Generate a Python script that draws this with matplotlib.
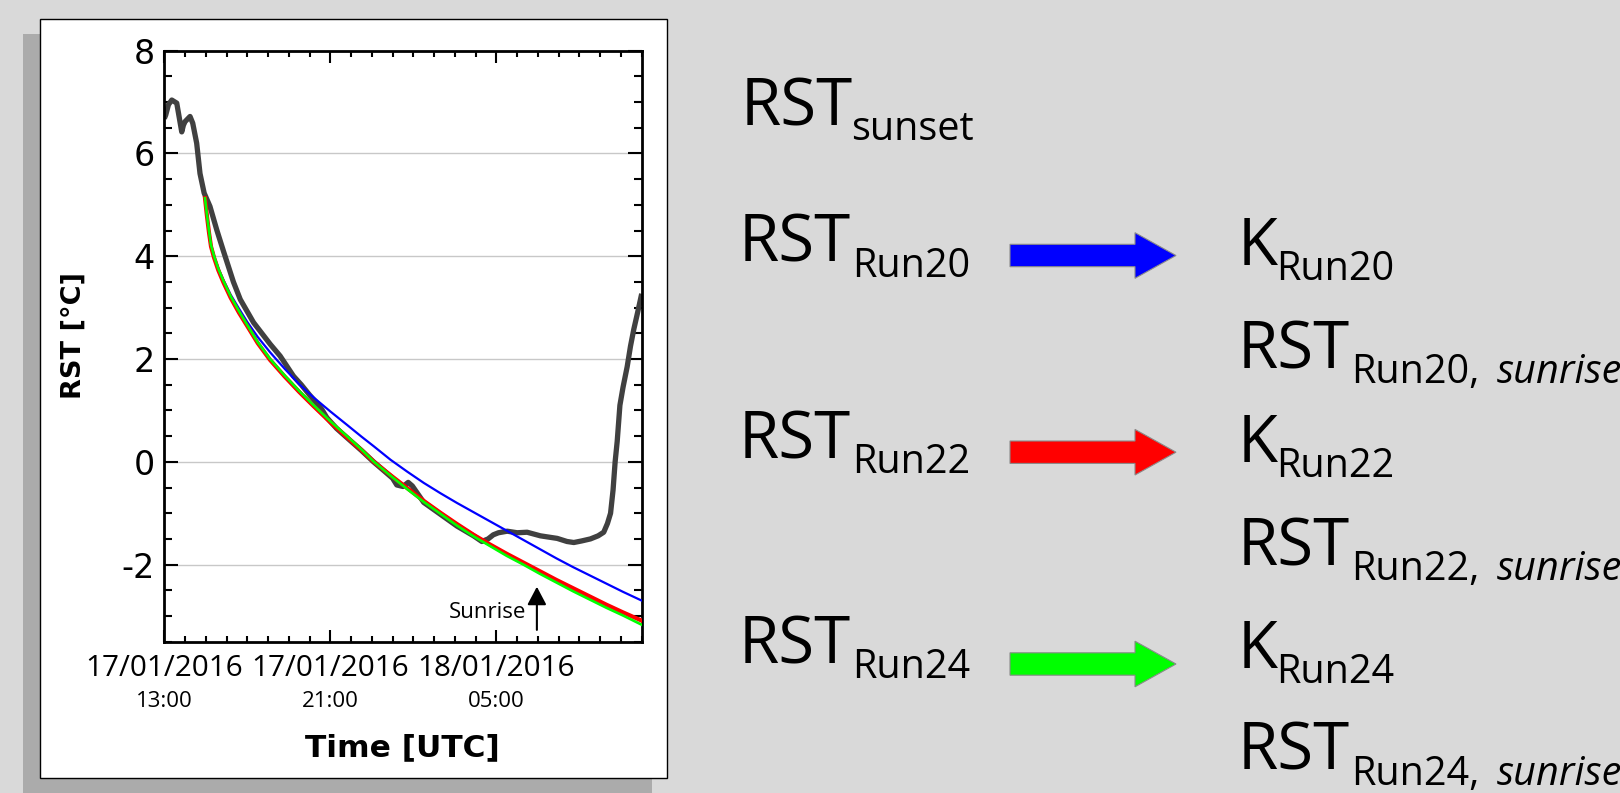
import pandas as pd
import matplotlib
matplotlib.use('Agg')
import matplotlib.pyplot as plt
import matplotlib.dates as mdates
import matplotlib.patches as mpatches
from matplotlib.ticker import MultipleLocator
from matplotlib import font_manager as fm

plt.rcParams['font.family'] = 'DejaVu Sans'
plt.rcParams['axes.unicode_minus'] = False

W, H = 1620, 793
SANS = 'Open Sans'

# time axis: hours after 17/01/2016 13:00 UTC
start = pd.Timestamp('2016-01-17 13:00')
span_h = 23

# measured road surface temperature (grey)
obs_h = [0.0, 0.07, 0.2, 0.36, 0.6, 0.72, 0.84, 0.92, 1.0, 1.24, 1.37, 1.56, 1.72,
         1.92, 2.2, 2.53, 2.85, 3.33, 3.66, 4.3, 5.1, 5.58, 6.22, 6.6, 7.0, 7.4,
         7.59, 7.83, 8.3, 8.8, 9.5, 10.08, 10.6, 11.0, 11.2, 11.5, 11.75, 11.95,
         12.5, 13.3, 14.1, 14.9, 15.3, 15.6, 15.85, 16.1, 16.52, 17.0, 17.48,
         18.12, 18.93, 19.4, 19.73, 20.1, 20.53, 20.9, 21.17, 21.35, 21.5, 21.62,
         21.72, 21.82, 21.95, 22.1, 22.3, 22.46, 22.62, 22.8, 23.0]
obs_rst = [6.68, 6.75, 6.95, 7.04, 6.98, 6.70, 6.42, 6.55, 6.62, 6.72, 6.59, 6.20, 5.61,
           5.23, 4.97, 4.51, 4.10, 3.50, 3.16, 2.71, 2.29, 2.06, 1.67, 1.50, 1.30, 1.12,
           1.02, 0.86, 0.65, 0.47, 0.22, 0.0, -0.18, -0.32, -0.45, -0.48, -0.40, -0.47,
           -0.79, -1.02, -1.25, -1.44, -1.55, -1.50, -1.42, -1.38, -1.35, -1.38, -1.37,
           -1.44, -1.49, -1.55, -1.57, -1.54, -1.50, -1.44, -1.37, -1.20, -1.00, -0.55,
           0.0, 0.40, 1.10, 1.45, 1.85, 2.25, 2.58, 2.90, 3.27]

# model runs, starting at sunset
run_h = [1.96, 2.05, 2.15, 2.25, 2.4, 2.6, 2.85, 3.2, 3.6, 4.0, 4.5, 5.1, 5.8, 6.5,
         7.2, 8.0, 8.8, 9.5, 10.1, 10.9, 11.7, 12.5, 13.3, 14.1, 14.9, 15.7, 16.5,
         17.3, 18.1, 18.9, 19.7, 20.5, 21.3, 22.1, 23.0]
run20_rst = [5.13, 4.82, 4.50, 4.22, 4.00, 3.77, 3.54, 3.25, 2.98, 2.72, 2.43, 2.13,
             1.81, 1.51, 1.25, 0.98, 0.72, 0.49, 0.30, 0.04, -0.19, -0.41, -0.61,
             -0.80, -0.98, -1.16, -1.34, -1.52, -1.70, -1.88, -2.05, -2.21, -2.37,
             -2.53, -2.70]
run22_rst = [5.13, 4.80, 4.47, 4.19, 3.97, 3.73, 3.49, 3.19, 2.90, 2.64, 2.31, 1.98,
             1.66, 1.36, 1.08, 0.77, 0.48, 0.23, 0.0, -0.26, -0.51, -0.76, -0.99,
             -1.21, -1.42, -1.61, -1.79, -1.96, -2.13, -2.30, -2.46, -2.62, -2.78,
             -2.93, -3.09]
run24_rst = [5.13, 4.82, 4.50, 4.22, 4.00, 3.76, 3.52, 3.22, 2.93, 2.66, 2.33, 2.00,
             1.68, 1.38, 1.10, 0.79, 0.50, 0.24, 0.0, -0.27, -0.53, -0.78, -1.01,
             -1.24, -1.45, -1.64, -1.83, -2.00, -2.18, -2.35, -2.52, -2.68, -2.84,
             -2.99, -3.17]

sunrise_h = 17.95
sunrise_tip, sunrise_base, sunrise_text_y = -2.43, -3.27, -3.04

runs = ['Run20', 'Run22', 'Run24']
run_colors = ['#0000ff', '#ff0000', '#00ff00']


def fx(px):
    return px / W


def fy(py):
    return 1 - py / H


def italic_family():
    for fam in [SANS, 'Noto Sans', 'DejaVu Sans']:
        try:
            path = fm.findfont(fm.FontProperties(family=fam, style='italic'),
                               fallback_to_default=False)
        except Exception:
            continue
        if 'italic' in path.lower() or 'oblique' in path.lower():
            return fam
    return 'DejaVu Sans'


ITALIC = italic_family()

fig = plt.figure(figsize=(W / 100, H / 100), dpi=100, facecolor='#d9d9d9')

# panel shadow and white panel
fig.add_artist(mpatches.Rectangle((fx(23.3), fy(800)), fx(651.7 - 23.3), (800 - 34.3) / H,
                                  transform=fig.transFigure, fc='#ababab', ec='none', zorder=-2))
fig.add_artist(mpatches.Rectangle((fx(40.3), fy(778.3)), fx(666.7 - 40.3), (778.3 - 19.3) / H,
                                  transform=fig.transFigure, fc='white', ec='black', lw=1, zorder=-1))

ax = fig.add_axes([fx(164.3), fy(641.7), fx(641.7 - 164.3), (641.7 - 50.7) / H])
ax.set_facecolor('white')

t_obs = start + pd.to_timedelta(obs_h, unit='h')
t_run = start + pd.to_timedelta(run_h, unit='h')

ax.plot(t_obs, obs_rst, color='#404040', lw=3.8, solid_capstyle='butt', zorder=2)
ax.plot(t_run, run20_rst, color=run_colors[0], lw=1.6, zorder=3)
ax.plot(t_run, run22_rst, color=run_colors[1], lw=3.0, zorder=4)
ax.plot(t_run, run24_rst, color=run_colors[2], lw=1.9, zorder=5)

ax.set_xlim(start, start + pd.Timedelta(hours=span_h))
ax.set_ylim(-3.5, 8)

ax.xaxis.set_major_locator(mdates.HourLocator(byhour=[5, 13, 21]))
ax.xaxis.set_minor_locator(mdates.HourLocator())
ax.xaxis.set_major_formatter(mdates.DateFormatter('%d/%m/%Y'))
ax.yaxis.set_major_locator(MultipleLocator(2))
ax.yaxis.set_minor_locator(MultipleLocator(0.5))

ax.grid(axis='y', which='major', color='#c8c8c8', lw=1)
ax.set_axisbelow(True)

for s in ax.spines.values():
    s.set_linewidth(2)
ax.tick_params(which='both', direction='in', top=True, right=True, width=1.5, colors='black')
ax.tick_params(axis='x', which='major', length=8.5, pad=9, labelsize=21.3, labelfontfamily=SANS)
ax.tick_params(axis='x', which='minor', length=4.5)
ax.tick_params(axis='y', which='major', length=10, pad=7, labelsize=24)
ax.tick_params(axis='y', which='minor', length=6)

# second line of the tick labels: time of day
x0, x1 = ax.get_xlim()
for t in ax.get_xticks():
    if x0 - 1e-6 <= t <= x1 + 1e-6:
        ax.text(t, -0.1015, mdates.num2date(t).strftime('%H:%M'), transform=ax.get_xaxis_transform(),
                ha='center', va='center', fontsize=16, family=SANS)

# sunrise marker
t_sun = start + pd.Timedelta(hours=sunrise_h)
ax.annotate('', xy=(t_sun, sunrise_tip), xytext=(t_sun, sunrise_base),
            arrowprops=dict(arrowstyle='-|>,head_length=0.55,head_width=0.29', color='black',
                            lw=1.5, mutation_scale=20, shrinkA=0, shrinkB=0))
ax.annotate('Sunrise', xy=(t_sun, sunrise_text_y), xytext=(-8, 0), textcoords='offset points',
            ha='right', va='baseline', fontsize=16, family=SANS)

fig.text(fx(74), fy(336), 'RST [°C]', rotation=90, ha='center', va='center',
         fontsize=19.5, fontweight='bold')
fig.text(fx(402.5), fy(756.7), 'Time [UTC]', ha='center', va='baseline',
         fontsize=22.5, fontweight='bold')


def sub_label(x_main, x_sub, base, main, sub, tail=None, x_tail=None):
    fig.text(fx(x_main), fy(base), main, fontsize=47, family=SANS, va='baseline')
    fig.text(fx(x_sub), fy(base + 15), sub, fontsize=28.5, family=SANS, va='baseline')
    if tail:
        fig.text(fx(x_tail), fy(base + 15), tail, fontsize=28.5, family=ITALIC,
                 style='italic', va='baseline')


sub_label(741, 850.7, 125, 'RST', 'sunset')

left_base = [261.7, 458.3, 663.3]
arrow_y = [255.5, 452.2, 664.0]
k_base = [265.0, 461.7, 667.7]
rise_base = [368.3, 565.0, 770.0]

for i, run in enumerate(runs):
    sub_label(739, 852, left_base[i], 'RST', run)
    fig.add_artist(mpatches.FancyArrow(fx(1010), fy(arrow_y[i]), fx(166), 0,
                                       width=22.4 / H, head_width=45.6 / H, head_length=fx(41),
                                       length_includes_head=True, transform=fig.transFigure,
                                       fc=run_colors[i], ec='#8a8a8a', lw=0.8))
    sub_label(1238, 1276, k_base[i], 'K', run)
    # the italic word runs past the right edge, as in the original slide
    sub_label(1238, 1351, rise_base[i], 'RST', run + ',', 'sunrise', 1497)

fig.savefig('out.png', dpi=100, facecolor=fig.get_facecolor())
